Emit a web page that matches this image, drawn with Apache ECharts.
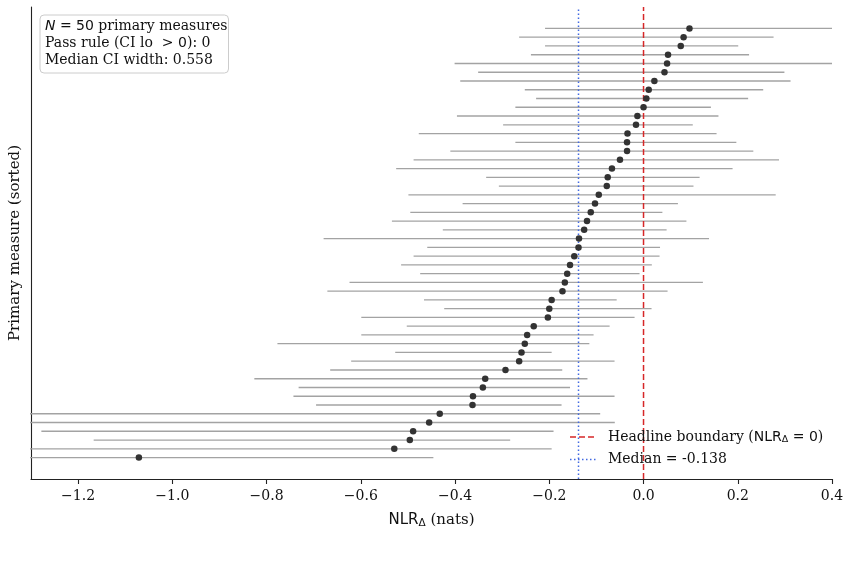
<!DOCTYPE html>
<html>
<head>
<meta charset="utf-8">
<script src="https://cdn.jsdelivr.net/npm/echarts@6/dist/echarts.min.js"></script>
<style>
  html, body { margin: 0; padding: 0; background: #fff; }
  #chart { width: 850px; height: 565px; }
</style>
</head>
<body>
<div id="chart"></div>
<script>
// rows are ordered bottom (index 0) to top (index 49), sorted by the point estimate
const pointVals = [
  -1.071, -0.529, -0.496, -0.489, -0.455, -0.4325, -0.363, -0.362, -0.341, -0.336,
  -0.293, -0.264, -0.259, -0.252, -0.247, -0.233, -0.203, -0.200, -0.195, -0.172,
  -0.167, -0.162, -0.156, -0.147, -0.138, -0.137, -0.126, -0.120, -0.112, -0.103,
  -0.095, -0.078, -0.076, -0.067, -0.050, -0.035, -0.035, -0.034, -0.016, -0.013,
  0.000, 0.006, 0.011, 0.023, 0.0445, 0.050, 0.052, 0.079, 0.085, 0.0975
];
const ciLo = [
  -1.35, -1.35, -1.167, -1.278, -1.35, -1.35, -0.695, -0.743, -0.732, -0.826,
  -0.665, -0.6205, -0.527, -0.777, -0.599, -0.5025, -0.599, -0.423, -0.466, -0.671,
  -0.624, -0.474, -0.5145, -0.488, -0.459, -0.679, -0.426, -0.534, -0.495, -0.384,
  -0.499, -0.307, -0.334, -0.525, -0.488, -0.41, -0.272, -0.477, -0.298, -0.396,
  -0.272, -0.228, -0.252, -0.389, -0.351, -0.401, -0.239, -0.209, -0.264, -0.209
];
const ciHi = [
  -0.446, -0.195, -0.283, -0.191, -0.061, -0.092, -0.174, -0.0615, -0.156, -0.119,
  -0.1725, -0.0615, -0.195, -0.115, -0.106, -0.072, -0.019, 0.017, -0.057, 0.051,
  0.126, -0.0085, 0.0176, 0.034, 0.035, 0.139, 0.049, 0.091, 0.040, 0.073,
  0.2805, 0.106, 0.119, 0.189, 0.2875, 0.233, 0.197, 0.155, 0.1045, 0.159,
  0.143, 0.222, 0.254, 0.312, 0.299, 0.45, 0.224, 0.201, 0.276, 0.45
];
const xTicks = [-1.2, -1.0, -0.8, -0.6, -0.4, -0.2, 0.0, 0.2, 0.4];
const headline = 0;
const medianVal = -0.138;

const serif = 'DejaVu Serif';
const sans = 'DejaVu Sans';
const yMin = -2.45, yMax = 51.45;
const redC = '#d62728', blueC = '#4169e1';

const barData = pointVals.map((v, i) => [i, ciLo[i], ciHi[i]]);
const dotData = pointVals.map((v, i) => [v, i]);

const chart = echarts.init(document.getElementById('chart'));
chart.setOption({
  animation: false,
  grid: { left: 29, right: 18, top: 7, bottom: 86 },
  xAxis: {
    type: 'value',
    min: -1.3,
    max: 0.4,
    splitLine: { show: false },
    axisLine: { onZero: false, lineStyle: { color: '#222', width: 1.1 } },
    axisTick: { show: true, length: 5, lineStyle: { color: '#222', width: 1.1 }, customValues: xTicks },
    axisLabel: {
      customValues: xTicks,
      margin: 10,
      color: '#111',
      fontFamily: serif,
      fontSize: 14,
      formatter: v => v.toFixed(1).replace('-', '\u2212')
    },
    name: '{n|NLR}{s|Δ}{p| (nats)}',
    nameLocation: 'middle',
    nameGap: 33,
    nameTextStyle: {
      rich: {
        n: { fontFamily: sans, fontSize: 15, color: '#111' },
        s: { fontFamily: sans, fontSize: 10.5, color: '#111', verticalAlign: 'bottom', padding: [6, 0, 0, 0] },
        p: { fontFamily: serif, fontSize: 15, color: '#111' }
      }
    }
  },
  yAxis: {
    type: 'value',
    min: yMin,
    max: yMax,
    splitLine: { show: false },
    axisTick: { show: false },
    axisLabel: { show: false },
    axisLine: { show: true, onZero: false, lineStyle: { color: '#222', width: 1.1 } },
    name: 'Primary measure (sorted)',
    nameLocation: 'middle',
    nameGap: 8,
    nameTextStyle: { fontFamily: serif, fontSize: 15, color: '#111' }
  },
  graphic: [
    // stats box, top left
    {
      type: 'rect',
      shape: { x: 40, y: 15, width: 188.5, height: 58, r: 4 },
      style: { fill: '#fff', stroke: '#cccccc', lineWidth: 1 },
      z: 100
    },
    {
      type: 'text',
      x: 45,
      y: 18.5,
      z: 101,
      style: {
        text: '{i|N}{m| = 50}{t| primary measures}\n{t|Pass rule (CI lo  }{m|> 0}{t|): 0}\n{t|Median CI width: 0.558}',
        verticalAlign: 'top',
        rich: {
          t: { fontFamily: serif, fontSize: 14, lineHeight: 16.7, fill: '#111' },
          i: { fontFamily: sans, fontStyle: 'italic', fontSize: 14, lineHeight: 16.7, fill: '#111' },
          m: { fontFamily: sans, fontSize: 14, lineHeight: 16.7, fill: '#111' }
        }
      }
    },
    // legend, bottom right
    {
      type: 'line',
      shape: { x1: 570, y1: 437, x2: 597, y2: 437 },
      style: { stroke: redC, lineWidth: 1.5, lineDash: [6, 3] },
      z: 101
    },
    {
      type: 'text',
      x: 608,
      y: 437,
      z: 101,
      style: {
        text: '{a|Headline boundary (}{b|NLR}{c|Δ}{b| = 0}{a|)}',
        verticalAlign: 'middle',
        rich: {
          a: { fontFamily: serif, fontSize: 14, fill: '#111' },
          b: { fontFamily: sans, fontSize: 14, fill: '#111' },
          c: { fontFamily: sans, fontSize: 9.5, fill: '#111', verticalAlign: 'bottom', padding: [5, 0, 0, 0] }
        }
      }
    },
    {
      type: 'line',
      shape: { x1: 570, y1: 459.5, x2: 597, y2: 459.5 },
      style: { stroke: blueC, lineWidth: 1.5, lineDash: [1.5, 2.5] },
      z: 101
    },
    {
      type: 'text',
      x: 608,
      y: 459.5,
      z: 101,
      style: {
        text: 'Median = -0.138',
        verticalAlign: 'middle',
        fontFamily: serif,
        fontSize: 14,
        fill: '#111'
      }
    }
  ],
  series: [
    {
      type: 'custom',
      clip: true,
      silent: true,
      data: barData,
      encode: { x: [1, 2], y: 0 },
      renderItem: (params, api) => {
        const i = api.value(0);
        const a = api.coord([api.value(1), i]);
        const b = api.coord([api.value(2), i]);
        return {
          type: 'line',
          shape: { x1: a[0], y1: a[1], x2: b[0], y2: b[1] },
          style: { stroke: '#a3a3a3', lineWidth: 1.3 }
        };
      },
      z: 1
    },
    {
      type: 'line',
      silent: true,
      symbol: 'none',
      data: [[headline, yMin], [headline, yMax]],
      lineStyle: { color: redC, width: 1.5, type: [6, 3] },
      z: 2
    },
    {
      type: 'line',
      silent: true,
      symbol: 'none',
      data: [[medianVal, yMin], [medianVal, yMax]],
      lineStyle: { color: blueC, width: 1.5, type: [1.5, 2.5] },
      z: 2
    },
    {
      type: 'scatter',
      silent: true,
      data: dotData,
      symbolSize: 6.5,
      itemStyle: { color: '#333', opacity: 1 },
      z: 3
    }
  ]
});
</script>
</body>
</html>
